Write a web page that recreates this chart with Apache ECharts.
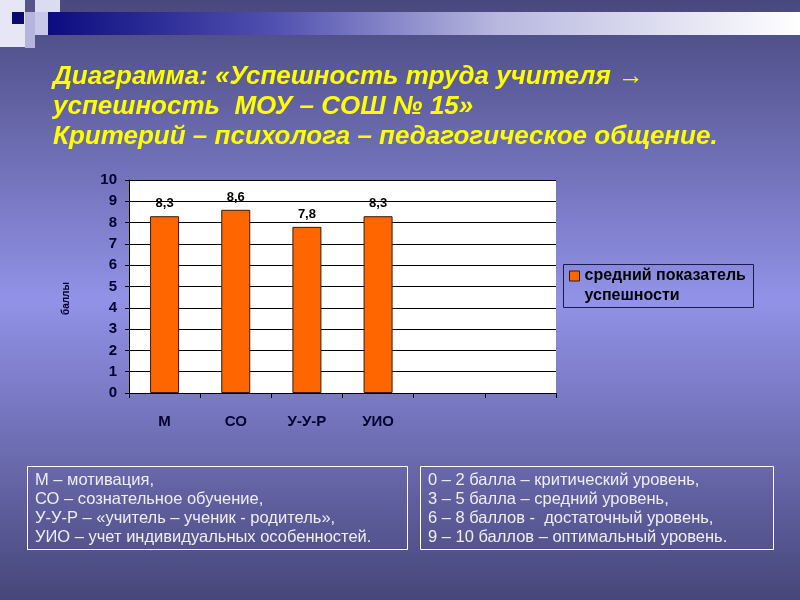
<!DOCTYPE html>
<html>
<head>
<meta charset="utf-8">
<script src="https://cdn.jsdelivr.net/npm/echarts@6/dist/echarts.min.js"></script>
<style>
html,body{margin:0;padding:0;}
#c{width:800px;height:600px;}
</style>
</head>
<body>
<div id="c"></div>
<script>
const categories = ['М', 'СО', 'У-У-Р', 'УИО', '', ''];
const values = [8.3, 8.6, 7.8, 8.3, null, null];
const seriesName = 'средний показатель\nуспешности';
const yTicks = [0, 10, 1];
const titleLines = [
  'Диаграмма: «Успешность труда учителя →',
  'успешность  МОУ – СОШ № 15»',
  'Критерий – психолога – педагогическое общение.'
];
const leftNotes = [
  'М – мотивация,',
  'СО – сознательное обучение,',
  'У-У-Р – «учитель – ученик - родитель»,',
  'УИО – учет индивидуальных особенностей.'
];
const rightNotes = [
  '0 – 2 балла – критический уровень,',
  '3 – 5 балла – средний уровень,',
  '6 – 8 баллов -  достаточный уровень,',
  '9 – 10 баллов – оптимальный уровень.'
];

const chart = echarts.init(document.getElementById('c'));
const sans = "'Liberation Sans', Arial, sans-serif";

const option = {
  backgroundColor: {
    type: 'linear', x: 0, y: 0, x2: 0, y2: 1,
    colorStops: [
      {offset: 0, color: '#48487e'},
      {offset: 0.5, color: '#9292e8'},
      {offset: 1, color: '#46467a'}
    ]
  },
  animation: false,
  title: {
    text: titleLines.join('\n'),
    left: 48, top: 57,
    textStyle: {
      color: '#ffff00', fontSize: 26, fontWeight: 'bold', fontStyle: 'italic',
      fontFamily: sans, lineHeight: 30
    }
  },
  legend: {
    show: true,
    left: 563, top: 246,
    orient: 'vertical',
    padding: [0, 6, 0, 6],
    borderWidth: 0,
    itemWidth: 10, itemHeight: 10,
    icon: 'rect',
    itemStyle: {borderColor: '#3a1a00', borderWidth: 1},
    formatter: name => '\n' + name,
    textStyle: {color: '#000000', fontSize: 16, fontWeight: 'bold', fontFamily: sans, lineHeight: 20},
    data: [seriesName]
  },
  grid: {left: 129, right: 244, top: 180, bottom: 207, show: true, backgroundColor: '#ffffff', borderWidth: 0},
  xAxis: {
    type: 'category',
    data: categories,
    axisLine: {lineStyle: {color: '#000000', width: 1}},
    axisTick: {show: true, length: 5, lineStyle: {color: '#000000'}},
    axisLabel: {color: '#000033', fontSize: 15, fontWeight: 'bold', fontFamily: sans, margin: 21}
  },
  yAxis: {
    type: 'value',
    min: yTicks[0], max: yTicks[1], interval: yTicks[2],
    axisLine: {show: true, lineStyle: {color: '#000000', width: 1}},
    axisTick: {show: true, length: 4, lineStyle: {color: '#000000'}},
    splitLine: {lineStyle: {color: '#000000', width: 1}},
    axisLabel: {color: '#000033', fontSize: 15, fontWeight: 'bold', fontFamily: sans, margin: 12},
    name: 'баллы',
    nameLocation: 'middle',
    nameGap: 58,
    nameRotate: 90,
    nameTextStyle: {color: '#000033', fontSize: 10, fontWeight: 'bold', fontFamily: sans, padding: [0, 24, 0, 0]}
  },
  series: [{
    name: seriesName,
    type: 'bar',
    data: values,
    barWidth: 29,
    itemStyle: {color: '#ff6600', borderColor: '#3a1a00', borderWidth: 1},
    label: {
      show: true, position: 'top', distance: 6,
      color: '#000000', fontSize: 13, fontWeight: 'bold', fontFamily: sans,
      formatter: p => String(p.value).replace('.', ',')
    }
  }],
  graphic: [
    // top decorative band and squares
    {type: 'rect', shape: {x: 48, y: 12, width: 752, height: 23}, silent: true,
      style: {fill: {type: 'linear', x: 0, y: 0, x2: 1, y2: 0,
        colorStops: [{offset: 0, color: '#0c0c80'}, {offset: 0.3, color: '#5050b0'}, {offset: 0.6, color: '#b8b8e0'}, {offset: 1, color: '#ffffff'}]}}},
    {type: 'rect', shape: {x: 0, y: 0, width: 25, height: 47}, silent: true, style: {fill: '#e6e6f4'}},
    {type: 'rect', shape: {x: 25, y: 12, width: 10, height: 36}, silent: true, style: {fill: '#b4b4dc'}},
    {type: 'rect', shape: {x: 35, y: 0, width: 25, height: 12}, silent: true, style: {fill: '#dcdcf0'}},
    {type: 'rect', shape: {x: 35, y: 12, width: 13, height: 23}, silent: true, style: {fill: '#c8c8ea'}},
    {type: 'rect', shape: {x: 25, y: 0, width: 10, height: 12}, silent: true, style: {fill: '#55558a'}},
    {type: 'rect', shape: {x: 12, y: 12, width: 12, height: 12}, silent: true, style: {fill: '#0a0a70'}},
    // legend frame
    {type: 'rect', shape: {x: 563.5, y: 264.5, width: 190, height: 43}, silent: true,
      style: {fill: 'rgba(0,0,0,0)', stroke: '#1a1a50', lineWidth: 1}},
    // note boxes
    {type: 'rect', shape: {x: 27.5, y: 466.5, width: 380, height: 83}, silent: true,
      style: {fill: 'rgba(0,0,0,0)', stroke: '#ffffff', lineWidth: 1}},
    {type: 'rect', shape: {x: 420.5, y: 466.5, width: 353, height: 83}, silent: true,
      style: {fill: 'rgba(0,0,0,0)', stroke: '#ffffff', lineWidth: 1}},
    {type: 'text', left: 35, top: 471, silent: true,
      style: {text: leftNotes.join('\n'), fill: '#eeeef6', font: '16.5px ' + sans, lineHeight: 19}},
    {type: 'text', left: 428, top: 471, silent: true,
      style: {text: rightNotes.join('\n'), fill: '#eeeef6', font: '16.5px ' + sans, lineHeight: 19}}
  ]
};
chart.setOption(option);
</script>
</body>
</html>
